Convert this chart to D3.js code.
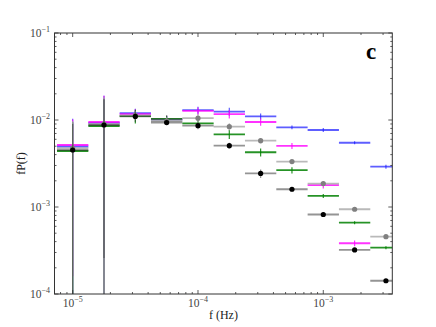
<!DOCTYPE html>
<html><head><meta charset="utf-8">
<script src="https://cdn.jsdelivr.net/npm/d3@7"></script>
<style>html,body{margin:0;padding:0;background:#fff;}svg{display:block;}</style>
</head><body>
<script>
// Frequency bin centres (Hz), log-spaced by 0.25 dex
const freq = [1.0e-5, 1.778e-5, 3.162e-5, 5.623e-5, 1.0e-4, 1.778e-4, 3.162e-4, 5.623e-4, 1.0e-3, 1.778e-3, 3.162e-3];
const binHalfDex = 0.125;

const blueP    = [4.96e-3, 9.24e-3, 1.20e-2, 1.01e-2, 1.30e-2, 1.25e-2, 1.10e-2, 8.24e-3, 7.67e-3, 5.48e-3, 2.91e-3];
const blueErr  = [5.4e-3, 9.7e-3, 1.5e-3, 1.0e-3, 1.2e-3, 1.3e-3, 9.0e-4, 4.0e-4, 4.0e-4, 2.0e-4, 1.5e-4];
const magentaP   = [5.16e-3, 9.48e-3, 1.17e-2, 1.03e-2, 1.27e-2, 1.17e-2, 9.48e-3, 5.05e-3, 1.78e-3, 3.83e-4];
const magentaErr = [5.0e-3, 9.5e-3, 1.6e-3, 1.0e-3, 1.2e-3, 1.3e-3, 9.0e-4, 4.0e-4, 1.5e-4, 3.0e-5];
const grayP    = [4.76e-3, 8.99e-3, 1.13e-2, 9.74e-3, 1.05e-2, 8.37e-3, 5.78e-3, 3.33e-3, 1.86e-3, 9.42e-4, 4.56e-4];
const grayErr  = [5.0e-3, 9.5e-3, 1.3e-3, 1.0e-3, 1.2e-3, 8.0e-4, 4.0e-4, 1.8e-4, 1.2e-4, 2.5e-5, 1.2e-5];
const greenP   = [4.40e-3, 8.53e-3, 1.11e-2, 1.03e-2, 9.16e-3, 6.85e-3, 4.26e-3, 2.65e-3, 1.34e-3, 6.61e-4, 3.41e-4];
const greenErr = [5.0e-3, 9.0e-3, 2.0e-3, 1.0e-3, 9.0e-4, 8.0e-4, 4.5e-4, 2.2e-4, 7.0e-5, 2.7e-5, 1.4e-5];
const blackP   = [4.52e-3, 8.76e-3, 1.10e-2, 9.36e-3, 8.60e-3, 5.07e-3, 2.43e-3, 1.60e-3, 8.2e-4, 3.21e-4, 1.42e-4];
const blackErr = [4.5e-3, 8.5e-3, 1.5e-3, 7.0e-4, 7.5e-4, 4.0e-4, 2.7e-4, 8.0e-5, 5.0e-5, 1.0e-5, 4.0e-6];

const xTicks = [1e-5, 1e-4, 1e-3];
const xTickExp = ["−5", "−4", "−3"];
const yTicks = [1e-4, 1e-3, 1e-2, 1e-1];
const yTickExp = ["−4", "−3", "−2", "−1"];

const series = [
  {p: blueP,    e: blueErr,    line: "#1a1aff", op: 0.7,  dot: null},
  {p: magentaP, e: magentaErr, line: "#ff00ff", op: 0.8,  dot: null},
  {p: greenP,   e: greenErr,   line: "#008000", op: 0.85, dot: null},
  {p: grayP,    e: grayErr,    line: "#a8a8a8", op: 0.8,  dot: "#808080"},
  {p: blackP,   e: blackErr,   line: "#2a2a2a", op: 0.5,  dot: "#000000"}
];

const W = 436, H = 327;
const L = 54.5, R = 392.3, T = 33, B = 294;
const x = d3.scaleLog().domain([7.16e-6, 3.554e-3]).range([L, R]);
const y = d3.scaleLog().domain([1e-4, 1e-1]).range([B, T]);

const svg = d3.select("body").append("svg").attr("width", W).attr("height", H);
svg.append("rect").attr("width", W).attr("height", H).attr("fill", "#fff");
svg.append("clipPath").attr("id", "clip").append("rect")
  .attr("x", L).attr("y", T).attr("width", R - L).attr("height", B - T);

const plot = svg.append("g").attr("clip-path", "url(#clip)");
const fw = Math.pow(10, binHalfDex);
series.forEach(s => {
  const g = plot.append("g");
  s.p.forEach((v, i) => {
    const f = freq[i];
    const lo = Math.max(v - s.e[i], 1e-7);
    const hi = v + s.e[i];
    g.append("line").attr("x1", x(f / fw)).attr("x2", x(f * fw))
      .attr("y1", y(v)).attr("y2", y(v))
      .attr("stroke", s.line).attr("stroke-opacity", s.op).attr("stroke-width", 1.8);
    g.append("line").attr("x1", x(f)).attr("x2", x(f))
      .attr("y1", y(lo)).attr("y2", y(hi))
      .attr("stroke", s.line).attr("stroke-opacity", s.op).attr("stroke-width", 1.2);
    if (s.dot) {
      g.append("circle").attr("cx", x(f)).attr("cy", y(v)).attr("r", 2.6).attr("fill", s.dot);
    }
  });
});

// ticks (inside, all four sides)
const axis = svg.append("g").attr("stroke", "#333").attr("stroke-width", 0.8);
function minorVals(lo, hi) {
  const out = [];
  for (let e = Math.floor(Math.log10(lo)); e <= Math.ceil(Math.log10(hi)); e++) {
    for (let m = 1; m < 10; m++) {
      const v = m * Math.pow(10, e);
      if (v >= lo && v <= hi) out.push({v, major: m === 1});
    }
  }
  return out;
}
minorVals(x.domain()[0], x.domain()[1]).forEach(t => {
  const len = t.major ? 4 : 2, px = x(t.v);
  axis.append("line").attr("x1", px).attr("x2", px).attr("y1", B).attr("y2", B - len);
  axis.append("line").attr("x1", px).attr("x2", px).attr("y1", T).attr("y2", T + len);
});
minorVals(y.domain()[0], y.domain()[1]).forEach(t => {
  const len = t.major ? 4 : 2, py = y(t.v);
  axis.append("line").attr("x1", L).attr("x2", L + len).attr("y1", py).attr("y2", py);
  axis.append("line").attr("x1", R).attr("x2", R - len).attr("y1", py).attr("y2", py);
});
svg.append("rect").attr("x", L).attr("y", T).attr("width", R - L).attr("height", B - T)
  .attr("fill", "none").attr("stroke", "#333").attr("stroke-width", 1);

const font = "'Liberation Serif', 'DejaVu Serif', serif";
xTicks.forEach((t, i) => {
  const tx = svg.append("text").attr("x", x(t)).attr("y", 307).attr("text-anchor", "middle")
    .attr("font-family", font).attr("font-size", 11.5).attr("fill", "#444");
  tx.append("tspan").text("10");
  tx.append("tspan").attr("dy", -5).attr("font-size", 8).text(xTickExp[i]);
});
yTicks.forEach((t, i) => {
  const ty = svg.append("text").attr("x", 50).attr("y", y(t) + 4).attr("text-anchor", "end")
    .attr("font-family", font).attr("font-size", 11.5).attr("fill", "#444");
  ty.append("tspan").text("10");
  ty.append("tspan").attr("dy", -5).attr("font-size", 8).text(yTickExp[i]);
});

svg.append("text").attr("x", (L + R) / 2).attr("y", 319).attr("text-anchor", "middle")
  .attr("font-family", font).attr("font-size", 12).attr("fill", "#222").text("f (Hz)");
svg.append("text").attr("transform", `translate(25,${(T + B) / 2}) rotate(-90)`)
  .attr("text-anchor", "middle").attr("font-family", font).attr("font-size", 12)
  .attr("fill", "#222").text("fP(f)");
svg.append("text").attr("x", 366).attr("y", 58.5).attr("font-family", font)
  .attr("font-weight", "bold").attr("font-size", 23).attr("fill", "#000").text("c");
</script>
</body></html>
